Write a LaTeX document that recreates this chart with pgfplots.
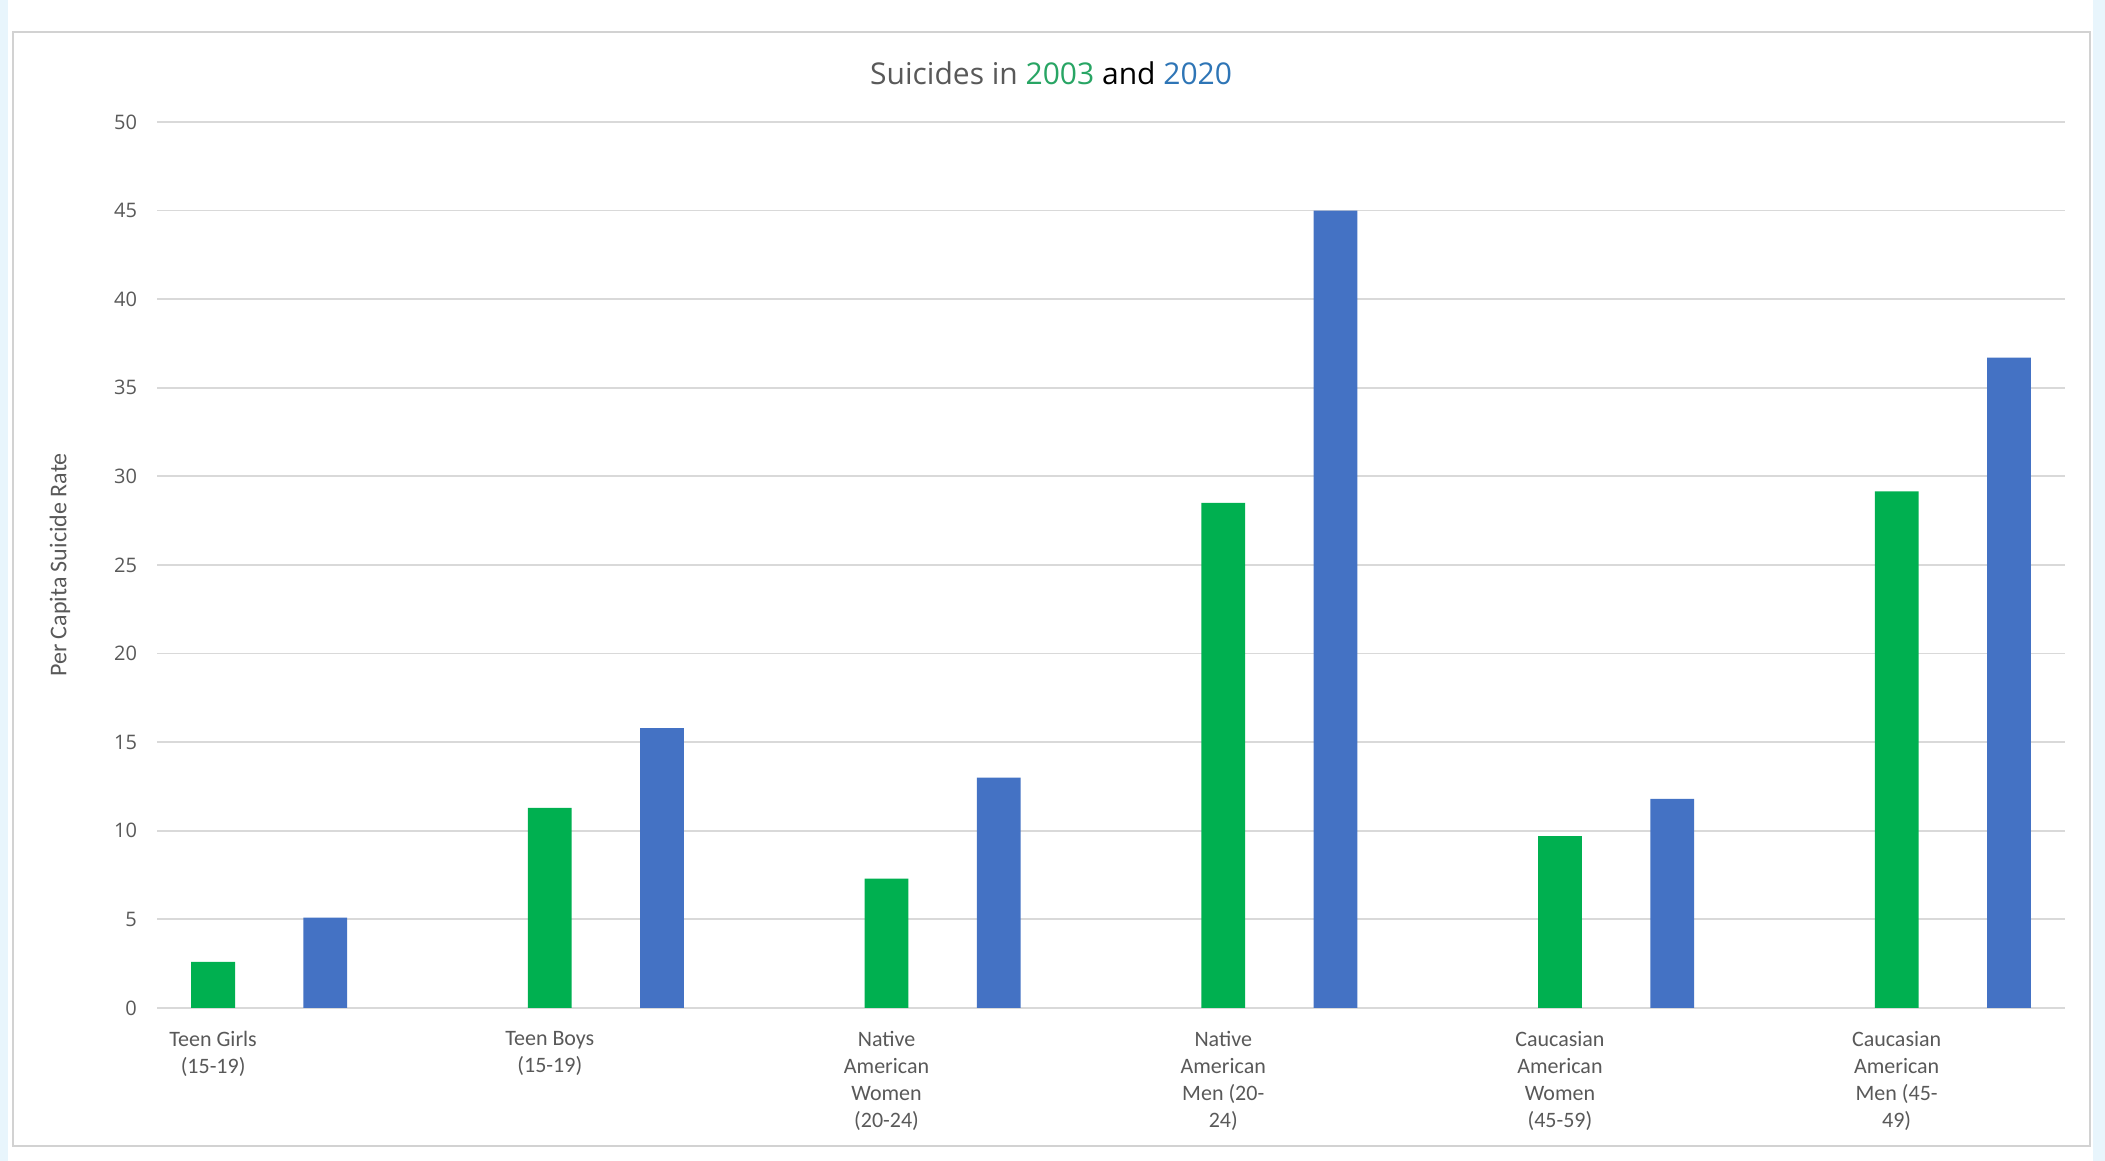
\documentclass[border=0pt]{standalone}
\usepackage{pgfplots}
\pgfplotsset{compat=1.18}
\usepackage{fontspec}
\setmainfont{Carlito}
\newfontfamily\titlefont{Open Sans}
\newfontfamily\tickfont{Open Sans}

\definecolor{barGreen}{RGB}{0,176,80}
\definecolor{barBlue}{RGB}{68,114,196}
\definecolor{titleGreen}{RGB}{40,165,100}
\definecolor{titleBlue}{RGB}{46,117,182}
\definecolor{textGray}{RGB}{89,89,89}
\definecolor{gridGray}{RGB}{217,217,217}
\definecolor{frameGray}{RGB}{210,210,210}
\definecolor{pageBg}{RGB}{232,245,252}

\begin{document}
\begin{tikzpicture}[x=1pt,y=1pt]
  % page background and chart frame
  \fill[white] (0,0) rectangle (1052.5,580.5);
  \fill[pageBg] (1046.5,0) rectangle (1052.5,580.5);
  \fill[pageBg] (0,0) rectangle (4,580.5);
  \draw[frameGray, line width=1.2pt] (6.5,7.5) rectangle (1045,564.5);

  \begin{axis}[
    at={(78.5pt,76.5pt)}, anchor=south west,
    scale only axis, width=954pt, height=443pt,
    xmin=-0.5, xmax=16.5, ymin=0, ymax=50,
    ytick={0,5,...,50},
    xtick={0,3,6,9,12,15},
    xticklabels={
      {Teen Girls\\(15-19)},
      {Teen Boys\\(15-19)},
      {Native\\American\\Women\\(20-24)},
      {Native\\American\\Men (20-\\24)},
      {Caucasian\\American\\Women\\(45-59)},
      {Caucasian\\American\\Men (45-\\49)}},
    ymajorgrids,
    grid style={gridGray, line width=0.9pt},
    axis line style={draw=none},
    major tick length=0pt,
    /pgf/number format/assume math mode=true,
    xticklabel style={font=\fontsize{11}{13.5}\selectfont, text=textGray,
      align=center, anchor=north, yshift=-8pt},
    yticklabel style={font=\tickfont\fontsize{10}{12}\selectfont, text=textGray,
      xshift=-6.5pt},
    ylabel={Per Capita Suicide Rate},
    ylabel style={font=\fontsize{12}{14}\selectfont, text=textGray,
      at={(axis description cs:-0.0508,0.5)}, anchor=center},
    title={\textcolor{textGray}{Suicides in} \textcolor{titleGreen}{2003} \textcolor{black}{and} \textcolor{titleBlue}{2020}},
    title style={font=\titlefont\fontsize{15}{18}\selectfont,
      at={(axis description cs:0.4686,1.0413)}, anchor=center},
    bar width=0.39,
  ]
    % 2003 rates
    \addplot[ybar, bar shift=0pt, fill=barGreen, draw=none]
      coordinates {(0,2.6) (3,11.3) (6,7.3) (9,28.5) (12,9.7) (15,29.15)};
    % 2020 rates
    \addplot[ybar, bar shift=0pt, fill=barBlue, draw=none]
      coordinates {(1,5.1) (4,15.8) (7,13.0) (10,45.0) (13,11.8) (16,36.7)};
  \end{axis}
\end{tikzpicture}
\end{document}
